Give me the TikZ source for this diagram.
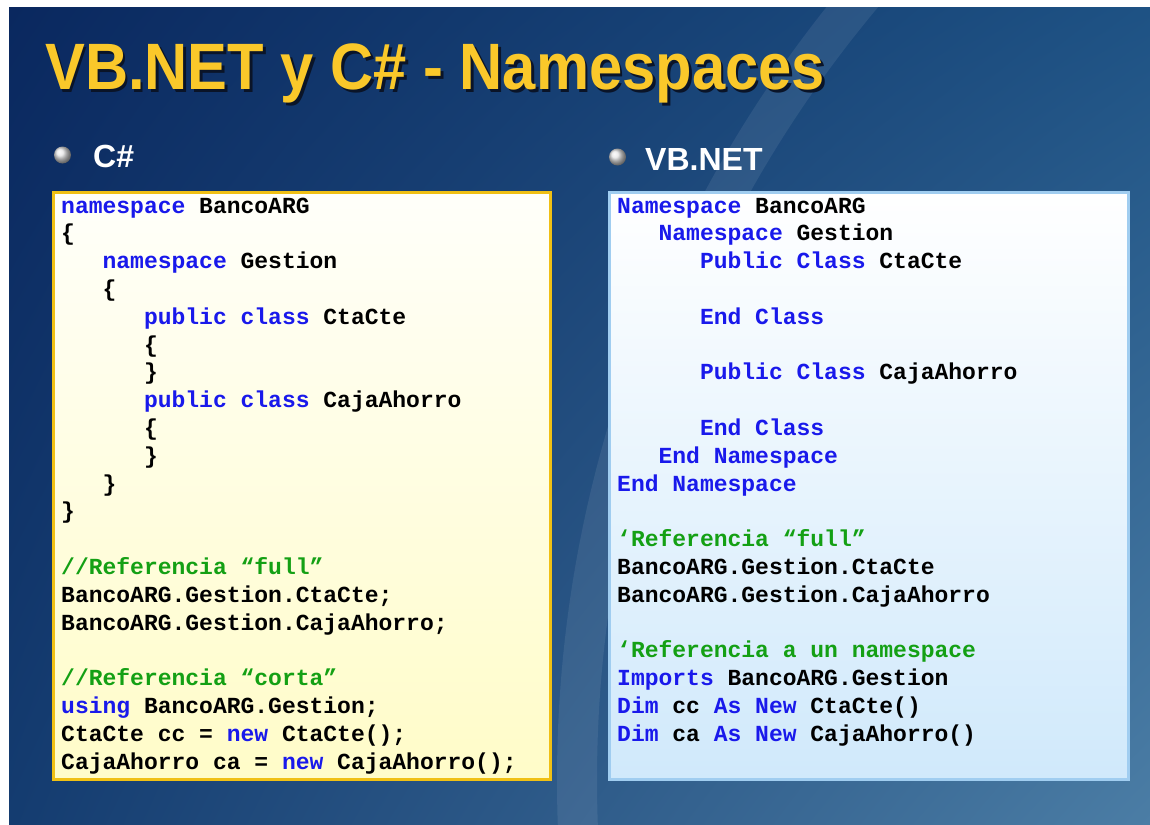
\documentclass[tikz,border=0pt]{standalone}
\usepackage{fontspec}
\usepackage{graphicx}
\usetikzlibrary{shadings}
\newfontfamily\slidefont{Liberation Sans}
\newfontfamily\codefam{Liberation Mono}
\newcommand{\titlefont}{\slidefont\bfseries\fontsize{65.6}{70}\selectfont}
\newcommand{\headfont}{\slidefont\bfseries\fontsize{32}{36}\selectfont}
\newcommand{\codefont}{\codefam\bfseries\fontsize{23}{27.8}\selectfont\frenchspacing}
\definecolor{slidetitle}{RGB}{250,200,42}
\definecolor{titleshade}{RGB}{10,20,40}
\definecolor{kwblue}{RGB}{25,25,235}
\definecolor{cmgreen}{RGB}{20,160,20}
\definecolor{csborder}{RGB}{240,192,20}
\definecolor{vbborder}{RGB}{160,205,240}
\definecolor{bgul}{RGB}{10,40,95}
\definecolor{bgur}{RGB}{30,82,132}
\definecolor{bgll}{RGB}{20,60,112}
\definecolor{bglr}{RGB}{75,125,165}
\newlength{\cw}
\setlength{\cw}{13.8pt}
\newcommand{\ind}[1]{\hspace*{#1\cw}}
\newcommand{\kw}[1]{\textcolor{kwblue}{#1}}
\newcommand{\cm}[1]{\textcolor{cmgreen}{#1}}
\newcommand{\shadowed}[1]{\rlap{\hspace{3pt}\raisebox{-3pt}{\textcolor{titleshade}{#1}}}#1}
\tikzset{
  code/.style={anchor=base west, inner sep=0pt, font=\codefont},
  head/.style={anchor=base west, inner sep=0pt, text=white, font=\headfont},
  bulletball/.style={circle, inner sep=0pt, minimum size=17pt, ball color=gray!20},
  codebox/.style={anchor=north west, inner sep=0pt, line width=2.5pt}
}
\begin{document}
\begin{tikzpicture}[x=1pt, y=-1pt]
        \useasboundingbox (0,0) rectangle (1150,824);
        \fill[white] (0,0) rectangle (1150,824);
        % slide background
        \shade[upper left=bgul, upper right=bgur, lower left=bgll, lower right=bglr]
                (9,8) rectangle (1150,824);
        \begin{scope}
                \clip (9,8) rectangle (1150,824);
                \draw[white, opacity=0.08, line width=40pt] (1800,780) circle[radius=1223];
        \end{scope}
        % title
        \node[anchor=base west, inner sep=0pt, text=slidetitle, font=\titlefont] (title) at (45,90)
                {\scalebox{0.91}[1]{\shadowed{VB.NET y C\# - Namespaces}}};
        % bullets
        \node[bulletball] (csdot) at (62.5,155) {};
        \node[head] (cshead) at (93,167) {C\#};
        \node[bulletball] (vbdot) at (617.5,157) {};
        \node[head] (vbhead) at (645,170) {VB.NET};
        % boxes
        \node[codebox, draw=csborder, top color=white!98!yellow, bottom color={rgb,255:red,255;green,252;blue,200},
                minimum width=497pt, minimum height=587pt] (csbox) at (52,191) {};
        \node[codebox, draw=vbborder, top color=white, bottom color={rgb,255:red,208;green,233;blue,251},
                minimum width=519pt, minimum height=587pt] (vbbox) at (608,191) {};
        % C# code
        \node[code] (cscode) at (61,213) {\begin{tabular}[t]{@{}l@{}}
\kw{namespace} BancoARG\\
\{\\
\ind3\kw{namespace} Gestion\\
\ind3\{\\
\ind6\kw{public class} CtaCte\\
\ind6\{\\
\ind6\}\\
\ind6\kw{public class} CajaAhorro\\
\ind6\{\\
\ind6\}\\
\ind3\}\\
\}\\
\\
\cm{//Referencia \textquotedblleft full\textquotedblright}\\
BancoARG.Gestion.CtaCte;\\
BancoARG.Gestion.CajaAhorro;\\
\\
\cm{//Referencia \textquotedblleft corta\textquotedblright}\\
\kw{using} BancoARG.Gestion;\\
CtaCte cc = \kw{new} CtaCte();\\
CajaAhorro ca = \kw{new} CajaAhorro();
\end{tabular}};
        % VB.NET code
        \node[code] (vbcode) at (617,213) {\begin{tabular}[t]{@{}l@{}}
\kw{Namespace} BancoARG\\
\ind3\kw{Namespace} Gestion\\
\ind6\kw{Public Class} CtaCte\\
\\
\ind6\kw{End Class}\\
\\
\ind6\kw{Public Class} CajaAhorro\\
\\
\ind6\kw{End Class}\\
\ind3\kw{End Namespace}\\
\kw{End Namespace}\\
\\
\cm{\textquoteleft Referencia \textquotedblleft full\textquotedblright}\\
BancoARG.Gestion.CtaCte\\
BancoARG.Gestion.CajaAhorro\\
\\
\cm{\textquoteleft Referencia a un namespace}\\
\kw{Imports} BancoARG.Gestion\\
\kw{Dim} cc \kw{As New} CtaCte()\\
\kw{Dim} ca \kw{As New} CajaAhorro()
\end{tabular}};
\end{tikzpicture}
\end{document}
